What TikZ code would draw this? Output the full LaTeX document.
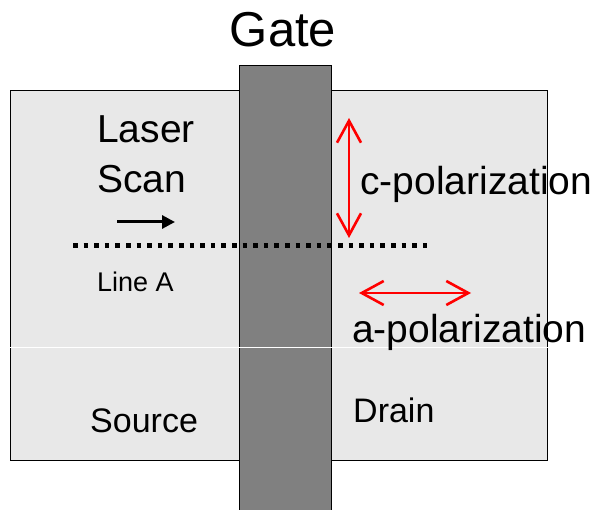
\documentclass[tikz,border=0pt]{standalone}
\usepackage{fontspec}
\setmainfont{Liberation Sans}
\usetikzlibrary{arrows.meta, positioning}
\definecolor{chipgray}{HTML}{E8E8E8}
\definecolor{gategray}{HTML}{808080}

\begin{document}
\begin{tikzpicture}[x=1pt, y=-1pt,
  txt/.style={inner sep=0pt, anchor=base west, font=\fontsize{39}{40}\selectfont},
  pol/.style={red, line width=2.6pt, {Straight Barb[length=22pt,width=24pt]}-{Straight Barb[length=22pt,width=24pt]}}]
\useasboundingbox (0,0) rectangle (597,510);
% device
\draw[fill=chipgray, line width=1pt] (10,90.5) rectangle (547.7,460);
\draw[fill=gategray, line width=1pt] (239.5,66) rectangle (331.7,512);
\draw[white, line width=1pt] (10,348) -- (547.7,348);
% scan line
\coordinate (lineAw) at (73,245.5);
\coordinate (lineAe) at (431,245.5);
\draw[line width=4.5pt, dash pattern=on 4.5pt off 6.1pt] (lineAw) -- (lineAe);
\coordinate (scanw) at (117,222);
\coordinate (scane) at (175,222);
\draw[line width=3pt, -{Triangle[length=13pt,width=13pt]}] (scanw) -- (scane);
% labels
\node[txt, anchor=base, font=\fontsize{49}{50}\selectfont] (gate) at (283,47) {Gate};
\node[txt] (laser) at (97,143) {Laser};
\node[txt] (scan) at (97,193) {Scan};
\node[txt, font=\fontsize{27}{28}\selectfont] (linea) at (97,292) {Line A};
\node[txt] (cpol) at (360,195) {c-polarization};
\node[txt] (apol) at (352,343) {a-polarization};
\node[txt, font=\fontsize{34}{36}\selectfont] (source) at (90,432) {Source};
\node[txt, font=\fontsize{34}{36}\selectfont] (drain) at (353,422) {Drain};
% polarizations
\coordinate (cpolt) at (349,118);
\coordinate (cpolb) at (349,238);
\draw[pol] (cpolt) -- (cpolb);
\coordinate (apolw) at (359,293);
\coordinate (apole) at (471,293);
\draw[pol] (apolw) -- (apole);
\end{tikzpicture}
\end{document}
